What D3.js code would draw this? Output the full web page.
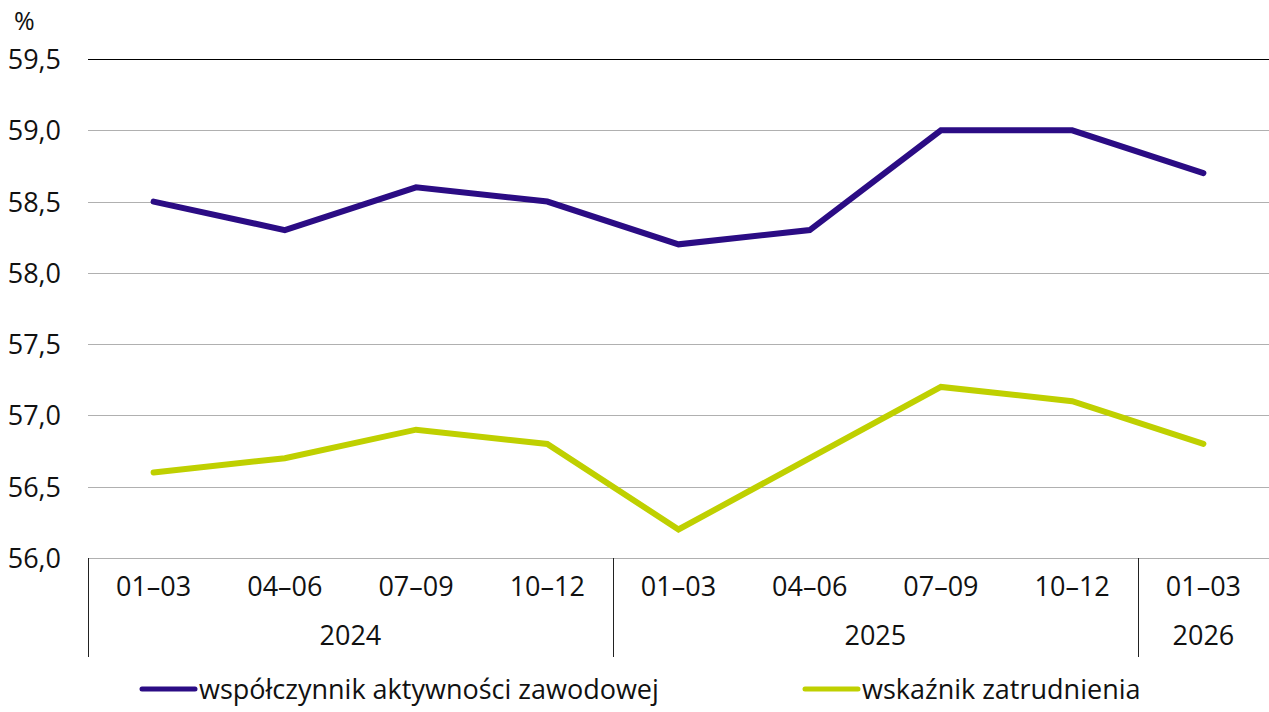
<!DOCTYPE html>
<html>
<head>
<meta charset="utf-8">
<script src="https://cdn.jsdelivr.net/npm/d3@7"></script>
<style>
  body { margin: 0; background: #fff; }
  svg text { font-family: "Open Sans", "Noto Sans", sans-serif; fill: #111; }
</style>
</head>
<body>
<div id="chart"></div>
<script>
const quarters = ["01–03", "04–06", "07–09", "10–12", "01–03", "04–06", "07–09", "10–12", "01–03"];
const years = [
  { label: "2024", from: 0, to: 4 },
  { label: "2025", from: 4, to: 8 },
  { label: "2026", from: 8, to: 9 }
];
const activityRate = [58.5, 58.3, 58.6, 58.5, 58.2, 58.3, 59.0, 59.0, 58.7];
const employmentRate = [56.6, 56.7, 56.9, 56.8, 56.2, 56.7, 57.2, 57.1, 56.8];
const yTicks = [56.0, 56.5, 57.0, 57.5, 58.0, 58.5, 59.0, 59.5];
const seriesNames = ["współczynnik aktywności zawodowej", "wskaźnik zatrudnienia"];
const seriesColors = ["#2b0c84", "#bfd000"];

const width = 1269, height = 712;
const plot = { left: 88, right: 1269, top: 59, bottom: 558 };
const fontSize = 27;

const svg = d3.select("#chart").append("svg")
  .attr("width", width)
  .attr("height", height);

const x = d3.scaleBand()
  .domain(d3.range(quarters.length))
  .range([plot.left, plot.right]);

const y = d3.scaleLinear()
  .domain([56, 59.5])
  .range([plot.bottom, plot.top]);

const fmt = v => d3.format(".1f")(v).replace(".", ",");

// gridlines
svg.append("g")
  .selectAll("line")
  .data(yTicks)
  .join("line")
  .attr("x1", plot.left)
  .attr("x2", plot.right)
  .attr("y1", d => Math.round(y(d)) + 0.5)
  .attr("y2", d => Math.round(y(d)) + 0.5)
  .attr("stroke", d => d === 59.5 ? "#000" : "#b0b0b0")
  .attr("stroke-width", 1.2);

// y labels
svg.append("g")
  .selectAll("text")
  .data(yTicks)
  .join("text")
  .attr("x", 61)
  .attr("y", d => y(d) + 10)
  .attr("text-anchor", "end")
  .attr("font-size", fontSize)
  .text(fmt);

svg.append("text")
  .attr("x", 14)
  .attr("y", 30)
  .attr("font-size", 25)
  .text("%");

// category axis
svg.append("g")
  .selectAll("text")
  .data(quarters)
  .join("text")
  .attr("x", (d, i) => x(i) + x.bandwidth() / 2)
  .attr("y", 596)
  .attr("text-anchor", "middle")
  .attr("font-size", fontSize)
  .text(d => d);

svg.append("g")
  .selectAll("text")
  .data(years)
  .join("text")
  .attr("x", d => (x(d.from) + (d.to < quarters.length ? x(d.to) : plot.right)) / 2)
  .attr("y", 645)
  .attr("text-anchor", "middle")
  .attr("font-size", fontSize)
  .text(d => d.label);

svg.append("g")
  .selectAll("line")
  .data(years)
  .join("line")
  .attr("x1", d => Math.round(x(d.from)) + 0.5)
  .attr("x2", d => Math.round(x(d.from)) + 0.5)
  .attr("y1", plot.bottom)
  .attr("y2", 657)
  .attr("stroke", "#222")
  .attr("stroke-width", 1);

// lines
const line = d3.line()
  .x((d, i) => x(i) + x.bandwidth() / 2)
  .y(d => y(d));

[activityRate, employmentRate].forEach((s, k) => {
  svg.append("path")
    .datum(s)
    .attr("d", line)
    .attr("fill", "none")
    .attr("stroke", seriesColors[k])
    .attr("stroke-width", 6)
    .attr("stroke-linejoin", "miter")
    .attr("stroke-linecap", "round");
});

// legend
const legendX = [142, 805];
const lg = svg.append("g")
  .selectAll("g")
  .data(seriesNames)
  .join("g")
  .attr("transform", (d, i) => `translate(${legendX[i]},689)`);

lg.append("line")
  .attr("x1", 0)
  .attr("x2", 53)
  .attr("stroke", (d, i) => seriesColors[i])
  .attr("stroke-width", 5)
  .attr("stroke-linecap", "round");

lg.append("text")
  .attr("x", 57)
  .attr("y", 10)
  .attr("font-size", fontSize)
  .text(d => d);
</script>
</body>
</html>
